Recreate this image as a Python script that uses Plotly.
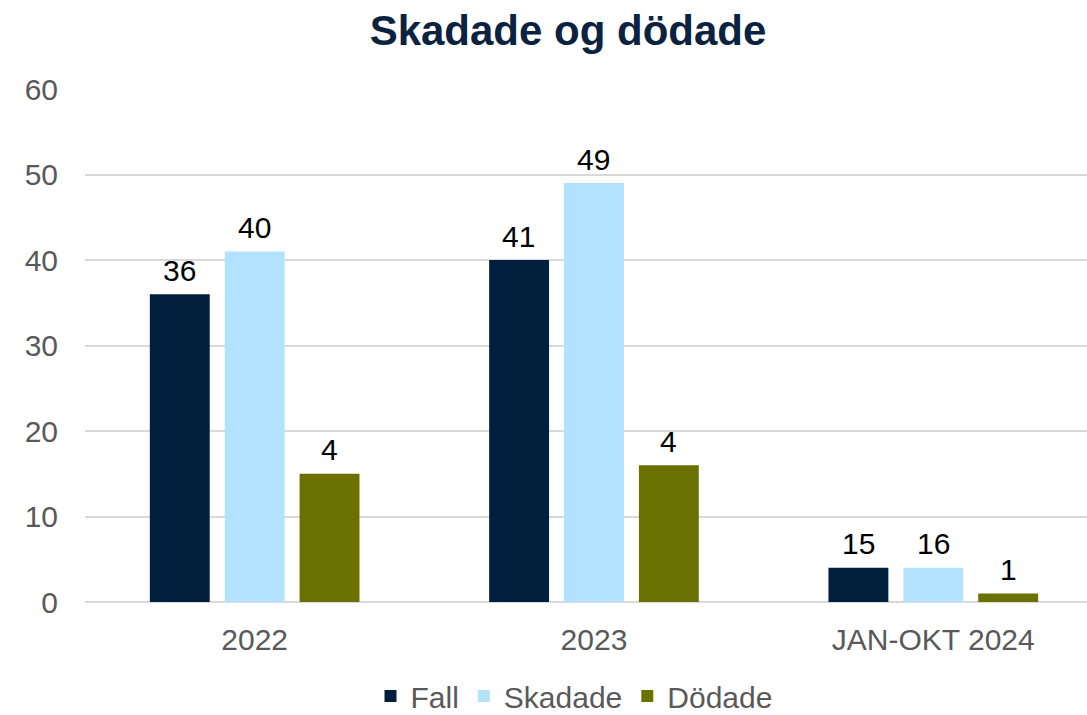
import plotly.graph_objects as go

categories = ["2022", "2023", "JAN-OKT 2024"]
series_names = ["Fall", "Skadade", "Dödade"]
fall_values = [36, 40, 4]
skadade_values = [41, 49, 4]
dodade_values = [15, 16, 1]
fall_labels = ["36", "41", "15"]
skadade_labels = ["40", "49", "16"]
dodade_labels = ["4", "4", "1"]
colors = ["#001F3D", "#B3E2FF", "#6B7100"]
y_ticks = [0, 10, 20, 30, 40, 50, 60]

FONT = "Liberation Sans, Arial, sans-serif"
FS = 30

fig = go.Figure()
all_vals = [fall_values, skadade_values, dodade_values]
all_labs = [fall_labels, skadade_labels, dodade_labels]
for name, vals, col in zip(series_names, all_vals, colors):
    fig.add_trace(go.Bar(
        x=categories, y=vals, name=name, marker_color=col,
        marker_line_width=0,
    ))

# data labels above each bar (pixel offsets only for group position)
offsets = [-75, 0, 75]
for vals, labs, dx in zip(all_vals, all_labs, offsets):
    for i, (v, lab) in enumerate(zip(vals, labs)):
        fig.add_annotation(x=i, y=v, xref="x", yref="y", text=lab, showarrow=False,
                           xshift=dx, yshift=24, yanchor="middle",
                           font=dict(family=FONT, size=FS, color="#000000"))

fig.update_layout(
    width=1087, height=715,
    margin=dict(l=85, r=0, t=89, b=113),
    paper_bgcolor="white", plot_bgcolor="white",
    barmode="group", bargap=0.338, bargroupgap=0.2,
    title=dict(text="<b>Skadade og dödade</b>", x=568/1087, xanchor="center",
               y=1 - 30/715, yanchor="middle", xref="container", yref="container",
               font=dict(family=FONT, size=42, color="#0B2240")),
    font=dict(family=FONT, size=FS, color="#595959"),
    showlegend=True,
    legend=dict(orientation="h", x=574/1087, xanchor="center", xref="container",
                y=1 - 696/715, yanchor="middle", yref="container",
                font=dict(family=FONT, size=30, color="#595959"),
                itemwidth=30, traceorder="normal", tracegroupgap=0),
)
fig.update_xaxes(type="category", range=[-0.5, 2.453], showgrid=False, showline=False,
                 ticks="", tickfont=dict(family=FONT, size=FS, color="#595959"),
                 ticklabelstandoff=17)
fig.update_yaxes(range=[0, 60], tickvals=y_ticks, showgrid=True, gridcolor="#D9D9D9",
                 gridwidth=1.5, zeroline=True, zerolinecolor="#D9D9D9", zerolinewidth=1.5,
                 showline=False, ticks="",
                 tickfont=dict(family=FONT, size=FS, color="#595959"),
                 ticklabelstandoff=26)

fig.write_html("out.html")
